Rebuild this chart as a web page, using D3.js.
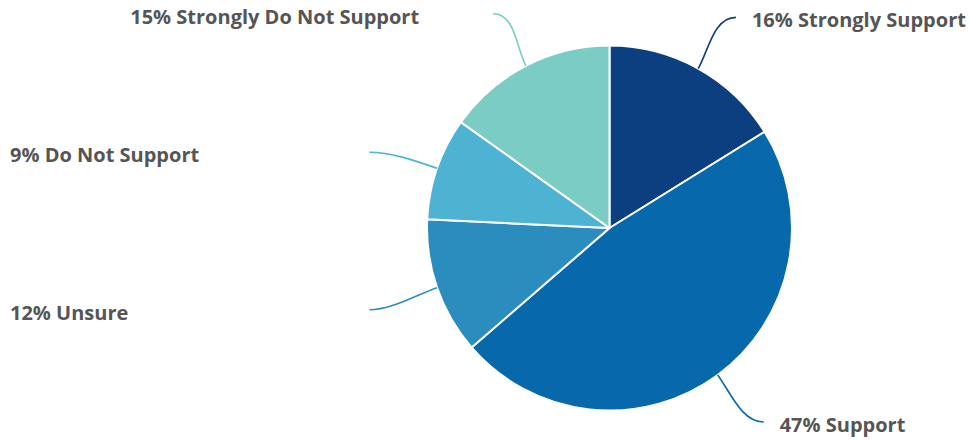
<!DOCTYPE html>
<html><head><meta charset="utf-8">
<script src="https://cdn.jsdelivr.net/npm/d3@7"></script>
<style>html,body{margin:0;padding:0;background:#fff;}svg{display:block;}</style>
</head><body>
<div id="chart"></div>
<script>
const categories = ["Strongly Support", "Support", "Unsure", "Do Not Support", "Strongly Do Not Support"];
const values = [16, 47, 12, 9, 15];
const colors = ["#0b3f7f", "#0868ac", "#2b8cbe", "#4eb3d3", "#7bccc4"];

const W = 970, H = 440;
const cx = 609.5, cy = 228, r = 182.5;
const svg = d3.select("#chart").append("svg").attr("width", W).attr("height", H);
const g = svg.append("g").attr("transform", `translate(${cx},${cy})`);

const data = categories.map((c, i) => ({cat: c, value: values[i], color: colors[i]}));
const pie = d3.pie().value(d => d.value).sort(null);
const arcs = pie(data);
const arc = d3.arc().innerRadius(0).outerRadius(r);

g.selectAll("path.slice").data(arcs).join("path")
  .attr("class", "slice")
  .attr("d", arc)
  .attr("fill", d => d.data.color)
  .attr("stroke", "#fff").attr("stroke-width", 2).attr("stroke-linejoin", "round");

const Ry = 241;
arcs.forEach(a => {
  const m = (a.startAngle + a.endAngle) / 2;
  const s = Math.sin(m), c = -Math.cos(m);
  const side = s >= 0 ? 1 : -1;
  const Rx = side > 0 ? 260 : 254;
  const p0 = [s * r, c * r];
  const p3 = [s * Rx, c * Ry + (Math.abs(s) > 0.8 ? 3 : 0)];
  const p1 = [s * (r + 22), c * (r + 22)];
  const p2 = [p3[0] - side * 22, p3[1]];
  const path = d3.path();
  path.moveTo(p0[0], p0[1]);
  path.bezierCurveTo(p1[0], p1[1], p2[0], p2[1], p3[0], p3[1]);
  g.append("path").attr("d", path.toString())
    .attr("fill", "none").attr("stroke", a.data.color).attr("stroke-width", 1.6);

  const label = `${a.data.value}% ${a.data.cat}`;
  const t = g.append("text")
    .attr("y", p3[1] + 3).attr("dy", "0.35em")
    .style("font-family", "'Open Sans', Lato, sans-serif")
    .style("font-weight", "bold").style("font-size", "20px")
    .attr("fill", "#555").text(label);
  if (side > 0) {
    t.attr("x", p3[0] + 16).attr("text-anchor", "start");
  } else if (Math.abs(s) > 0.8) {
    t.attr("x", 10 - cx).attr("text-anchor", "start");
  } else {
    t.attr("x", p3[0] - 74).attr("text-anchor", "end");
  }
});
</script>
</body></html>
